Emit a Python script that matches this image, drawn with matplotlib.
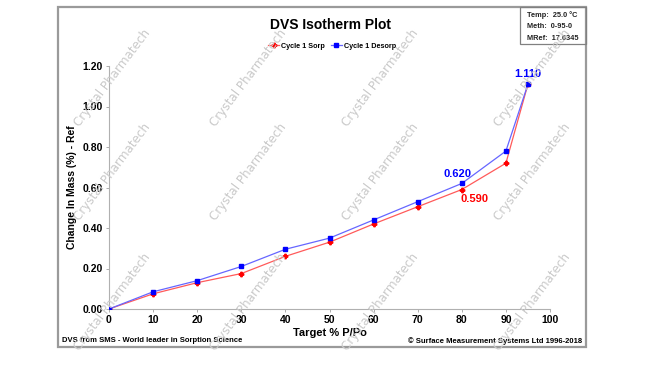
import matplotlib
matplotlib.use("Agg")
import matplotlib.pyplot as plt
from matplotlib.patches import Rectangle
from matplotlib.lines import Line2D

plt.rcParams["font.family"] = ["Liberation Sans", "DejaVu Sans"]

# ---- data ----
target_rh = [0, 10, 20, 30, 40, 50, 60, 70, 80, 90, 95]
sorp = [0.0, 0.075, 0.13, 0.175, 0.26, 0.33, 0.42, 0.505, 0.59, 0.72, 1.11]
desorp = [0.0, 0.085, 0.14, 0.21, 0.295, 0.35, 0.44, 0.53, 0.62, 0.78, 1.11]
x_ticks = list(range(0, 101, 10))
y_ticks = [0.0, 0.2, 0.4, 0.6, 0.8, 1.0, 1.2]
info_lines = ["Temp:  25.0 °C", "Meth:  0-95-0", "MRef:  17.6345"]

W, H = 650, 365
fig = plt.figure(figsize=(6.5, 3.65), dpi=100)
fig.patch.set_facecolor("white")

def fx(px):
    return px / W

def fy(py):
    return 1 - py / H

# outer frame
fig.patches.append(Rectangle((fx(58), fy(347)), fx(586) - fx(58), fy(7) - fy(347),
                             transform=fig.transFigure, fill=False,
                             edgecolor="#9a9a9a", linewidth=1.6, zorder=0))
# info box
fig.patches.append(Rectangle((fx(520), fy(44)), fx(586) - fx(520), fy(7) - fy(44),
                             transform=fig.transFigure, fill=False,
                             edgecolor="#808080", linewidth=0.9, zorder=1))
for i, t in enumerate(info_lines):
    fig.text(fx(527), fy(15 + i * 11.5), t, fontsize=5.3, fontweight="bold",
             va="center", ha="left", color="#222222")

ax_left, ax_right = 109, 550
ax = fig.add_axes([fx(ax_left), fy(309), fx(ax_right) - fx(ax_left), fy(66) - fy(309)])
ax.plot(target_rh, sorp, color="#ff5a5a", linewidth=0.9, marker="P",
        markersize=3.2, markerfacecolor="red", markeredgecolor="red", zorder=3)
ax.plot(target_rh, desorp, color="#6666ff", linewidth=0.9, marker="s",
        markersize=3, markerfacecolor="blue", markeredgecolor="blue", zorder=4)

ax.set_xlim(0, 100)
ax.set_ylim(0, 1.2)
ax.set_xticks(x_ticks)
ax.set_yticks(y_ticks)
ax.set_yticklabels([f"{v:.2f}" for v in y_ticks])
ax.tick_params(labelsize=7.5, length=2.5, width=0.6, color="#a0a0a0", pad=2)
for lab in ax.get_xticklabels() + ax.get_yticklabels():
    lab.set_fontweight("bold")
for s in ["top", "right"]:
    ax.spines[s].set_visible(False)
for s in ["left", "bottom"]:
    ax.spines[s].set_color("#b0b0b0")
    ax.spines[s].set_linewidth(0.8)
ax.patch.set_alpha(0)

ax.set_xlabel("Target % P/Po", fontsize=8, fontweight="bold", labelpad=2)
ax.set_ylabel("Change In Mass (%) - Ref", fontsize=7.5, fontweight="bold")
ax.yaxis.set_label_coords((77 - ax_left) / (ax_right - ax_left), 0.5)

# annotations
ax.annotate(f"{desorp[-1]:.3f}", (target_rh[-1], desorp[-1]), xytext=(0, 4),
            textcoords="offset points", ha="center", va="bottom",
            color="blue", fontsize=8, fontweight="bold")
ax.annotate(f"{desorp[8]:.3f}", (target_rh[8], desorp[8]), xytext=(-3, 3),
            textcoords="offset points", ha="center", va="bottom",
            color="blue", fontsize=8, fontweight="bold")
ax.annotate(f"{sorp[8]:.3f}", (target_rh[8], sorp[8]), xytext=(-1, -3),
            textcoords="offset points", ha="left", va="top",
            color="red", fontsize=8, fontweight="bold")

# title
fig.text(fx(331), fy(25), "DVS Isotherm Plot", fontsize=10, fontweight="bold",
         ha="center", va="center")

# legend
handles = [Line2D([], [], color="#ff5a5a", lw=0.9, marker="P", markersize=3.2,
                  markerfacecolor="red", markeredgecolor="red"),
           Line2D([], [], color="#6666ff", lw=0.9, marker="s", markersize=3,
                  markerfacecolor="blue", markeredgecolor="blue")]
fig.legend(handles, ["Cycle 1 Sorp", "Cycle 1 Desorp"], loc="center",
           bbox_to_anchor=(fx(332), fy(46)), ncol=2, frameon=False,
           prop={"size": 5.2, "weight": "bold"}, handlelength=1.5,
           handletextpad=0.3, columnspacing=0.8)

# footer
fig.text(fx(62), fy(341), "DVS from SMS - World leader in Sorption Science",
         fontsize=5.5, fontweight="bold", ha="left", va="center")
fig.text(fx(582), fy(341), "© Surface Measurement Systems Ltd 1996-2018",
         fontsize=5.5, fontweight="bold", ha="right", va="center")

# watermarks
wm_x = [112, 248, 380, 532]
wm_y = [78, 172, 302]
for yy in wm_y:
    for xx in wm_x:
        fig.text(fx(xx), fy(yy), "Crystal Pharmatech", fontsize=9.5,
                 family=["Liberation Sans Narrow", "DejaVu Sans"],
                 stretch="condensed",
                 color="#cacaca", rotation=53, ha="center", va="center",
                 rotation_mode="anchor", zorder=10)

fig.savefig("out.png", dpi=100)
